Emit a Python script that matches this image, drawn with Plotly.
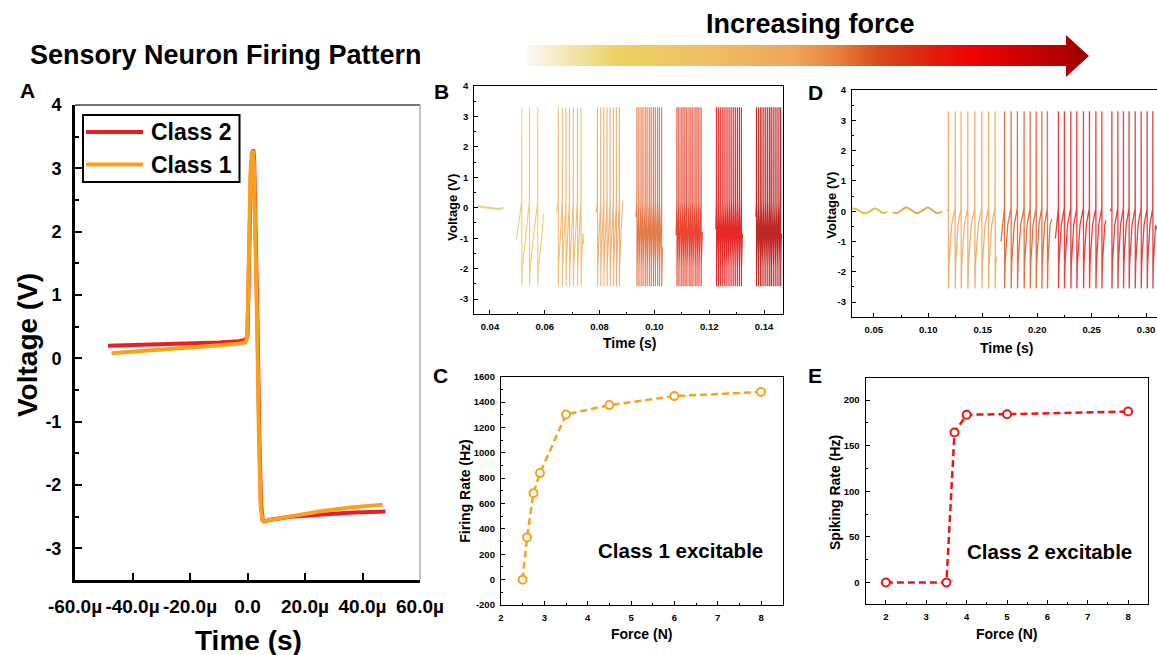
import plotly.graph_objects as go

W, H = 1157, 655
FONT = "Liberation Sans, Arial, Helvetica, sans-serif"

# ---------------- Panel A: single action potential of both classes ----------------
A_CLASS2_T_US = [-48.5, -40, -30, -20, -10, -3, -0.8, 0.0, 0.35, 0.75, 1.2, 1.7, 2.0, 2.3,
                 2.9, 3.5, 4.1, 4.7, 5.3, 5.9, 8, 15, 25, 35, 48.0]
A_CLASS2_V = [0.20, 0.21, 0.22, 0.23, 0.25, 0.27, 0.29, 0.35, 0.9, 2.0, 2.9, 3.28, 3.3, 3.15,
              2.1, 0.5, -1.2, -2.3, -2.55, -2.57, -2.55, -2.5, -2.47, -2.44, -2.42]
A_CLASS1_T_US = [-47.3, -40, -30, -20, -10, -3, -0.8, -0.2, 0.2, 0.6, 1.0, 1.5, 1.85, 2.2,
                 2.8, 3.4, 4.0, 4.6, 5.2, 5.7, 8, 15, 25, 35, 47.0]
A_CLASS1_V = [0.08, 0.11, 0.14, 0.17, 0.20, 0.23, 0.25, 0.30, 0.9, 2.0, 2.9, 3.25, 3.28, 3.1,
              2.0, 0.4, -1.3, -2.35, -2.56, -2.58, -2.55, -2.49, -2.42, -2.36, -2.31]
A_XTICK_US = [-60, -40, -20, 0, 20, 40, 60]
A_XTICK_TEXT = ["-60.0µ", "-40.0µ", "-20.0µ", "0.0", "20.0µ", "40.0µ", "60.0µ"]
VOLT_TICKS = [-3, -2, -1, 0, 1, 2, 3, 4]

# ---------------- Panel B: Class 1 spike trains at increasing force ----------------
B_REST_T = [0.0354, 0.0380, 0.0410, 0.0430, 0.0449]
B_REST_V = [0.05, 0.02, -0.02, -0.04, -0.01]
B_REST_COLOR = "#ead07c"

B_SPIKES = [
    [0.0516, 0.0544, 0.0574],
    [0.0649, 0.0664, 0.0677, 0.0690, 0.0704, 0.0719, 0.0732],
    [0.0792, 0.0804, 0.0815, 0.0827, 0.0838, 0.0850, 0.0861, 0.0872],
    [0.0936, 0.0943, 0.0951, 0.0958, 0.0966, 0.0973, 0.0981, 0.0988, 0.0996, 0.1003,
     0.1011, 0.1018, 0.1026],
    [0.1082, 0.1089, 0.1097, 0.1104, 0.1111, 0.1118, 0.1126, 0.1133, 0.1140, 0.1148,
     0.1155, 0.1162, 0.1170],
    [0.1226, 0.1233, 0.1240, 0.1247, 0.1254, 0.1261, 0.1268, 0.1275, 0.1282, 0.1289,
     0.1296, 0.1303, 0.1310, 0.1317],
    [0.1372, 0.1379, 0.1386, 0.1392, 0.1399, 0.1406, 0.1413, 0.1420, 0.1426, 0.1433,
     0.1440, 0.1447, 0.1454, 0.1460],
]
B_START_T = [0.0497, 0.0643, 0.0788, 0.0933, 0.1079, 0.1224, 0.1370]
B_START_V = [-1.05, -0.15, -0.15, -0.3, -0.9, -0.7, -0.3]
B_END_T = [0.0595, 0.0741, 0.0884, 0.1029, 0.1176, 0.1321, 0.1465]
B_END_V = [-0.2, -1.2, 0.2, -1.3, -0.8, -0.9, -1.0]
B_COLORS = ["#f1c45a", "#f0b35c", "#f0a35a", "#e0622a", "#e3260c", "#e10404", "#b60202"]
B_PEAK, B_TROUGH, B_THRESH = 3.3, -2.58, 0.2
B_REC_FRAC = [0.10, 0.55]
B_REC_V = [-1.95, -0.85]

# ---------------- Panel D: Class 2 spike trains at increasing force ----------------
D_OSC = [
    ([0.030, 0.034, 0.038, 0.042, 0.046, 0.0505, 0.054, 0.058, 0.0624],
     [0.10, 0.07, -0.02, -0.07, -0.02, 0.09, 0.05, -0.06, -0.02]),
    ([0.0674, 0.0710, 0.0750, 0.0796, 0.0845, 0.0894, 0.0945, 0.0995, 0.1040, 0.1083, 0.1124],
     [-0.03, -0.06, 0.02, 0.12, 0.04, -0.07, 0.02, 0.12, 0.03, -0.07, 0.0]),
]
D_OSC_COLORS = ["#e6bf45", "#e9a948"]

D_SPIKES = [
    [0.1184, 0.1246, 0.1301, 0.1362, 0.1427, 0.1491, 0.1552, 0.1613],
    [0.1699, 0.1760, 0.1818, 0.1879, 0.1935, 0.1990, 0.2042, 0.2093],
    [0.2194, 0.2249, 0.2308, 0.2363, 0.2424, 0.2479, 0.2538, 0.2593],
    [0.2685, 0.2740, 0.2791, 0.2843, 0.2899, 0.2954, 0.3009, 0.3061],
]
D_START_T = [0.1170, 0.1668, 0.2167, 0.2669]
D_START_V = [0.0, -1.0, -0.9, 0.0]
D_END_T = [0.1629, 0.2134, 0.2632, 0.3100]
D_END_V = [-1.5, -0.25, -0.3, -0.6]
D_COLORS = ["#f2a45c", "#df5a26", "#ef1e1e", "#d42828"]
D_PEAK, D_TROUGH, D_THRESH = 3.3, -2.55, 0.1
D_REC_FRAC = [0.10, 0.5]
D_REC_V = [-1.75, -0.45]

# ---------------- Panels C and E: rate versus force ----------------
C_FORCE = [2.5, 2.6, 2.75, 2.9, 3.5, 4.5, 6, 8]
C_RATE = [0, 333, 682, 840, 1302, 1376, 1447, 1479]
C_YTICKS = [-200, 0, 200, 400, 600, 800, 1000, 1200, 1400, 1600]
E_FORCE = [2, 3.5, 3.7, 4, 5, 8]
E_RATE = [0, 0, 164.5, 184, 184.6, 187.5]

ORANGE = "#f8a11c"
RED_A = "#ec1c24"
RED_E = "#ee1414"


def px_x(p):
    return p / W


def px_y(p):
    return 1 - p / H


def plain_labels(vals):
    # hyphen-minus labels, as printed on the original axes
    return [str(v) for v in vals]


def spike_train(t0, v0, spikes, t1, v1, peak, trough, thresh, rise, rec_frac, rec_v):
    """Concatenate threshold -> peak -> trough -> recovery for every spike time."""
    ts, vs = [t0], [v0]
    for i, s in enumerate(spikes):
        ts += [s, s + rise, s + 2 * rise]
        vs += [thresh, peak, trough]
        if i + 1 < len(spikes):
            isi = spikes[i + 1] - s
        else:
            isi = s - spikes[i - 1] if i > 0 else 0.002
        for f, v in zip(rec_frac, rec_v):
            t = s + f * isi
            if i + 1 < len(spikes) or t < t1:
                ts.append(t)
                vs.append(v)
    ts.append(t1)
    vs.append(v1)
    return ts, vs


fig = go.Figure()

# Panel A traces
fig.add_trace(go.Scatter(x=[t * 1e-6 for t in A_CLASS2_T_US], y=A_CLASS2_V, mode="lines",
                         line=dict(color=RED_A, width=4), name="Class 2",
                         xaxis="x", yaxis="y"))
fig.add_trace(go.Scatter(x=[t * 1e-6 for t in A_CLASS1_T_US], y=A_CLASS1_V, mode="lines",
                         line=dict(color=ORANGE, width=4), name="Class 1",
                         xaxis="x", yaxis="y"))

# Panel B traces
fig.add_trace(go.Scatter(x=B_REST_T, y=B_REST_V, mode="lines",
                         line=dict(color=B_REST_COLOR, width=2), xaxis="x2", yaxis="y2"))
for k, spikes in enumerate(B_SPIKES):
    tt, vv = spike_train(B_START_T[k], B_START_V[k], spikes, B_END_T[k], B_END_V[k],
                         B_PEAK, B_TROUGH, B_THRESH, 0.00003, B_REC_FRAC, B_REC_V)
    fig.add_trace(go.Scatter(x=tt, y=vv, mode="lines", opacity=0.85,
                             line=dict(color=B_COLORS[k], width=1.1),
                             xaxis="x2", yaxis="y2"))

# Panel D traces
for (tt, vv), col in zip(D_OSC, D_OSC_COLORS):
    fig.add_trace(go.Scatter(x=tt, y=vv, mode="lines", line=dict(color=col, width=2, shape="spline"),
                             xaxis="x3", yaxis="y3"))
for k, spikes in enumerate(D_SPIKES):
    tt, vv = spike_train(D_START_T[k], D_START_V[k], spikes, D_END_T[k], D_END_V[k],
                         D_PEAK, D_TROUGH, D_THRESH, 0.00008, D_REC_FRAC, D_REC_V)
    fig.add_trace(go.Scatter(x=tt, y=vv, mode="lines", opacity=0.85,
                             line=dict(color=D_COLORS[k], width=1.3),
                             xaxis="x3", yaxis="y3"))

# Panel C
fig.add_trace(go.Scatter(x=C_FORCE, y=C_RATE, mode="lines+markers",
                         line=dict(color=ORANGE, width=2.5, dash="7px,4px"),
                         marker=dict(symbol="circle", size=8, color="white",
                                     line=dict(color=ORANGE, width=2)),
                         xaxis="x4", yaxis="y4"))
# Panel E
fig.add_trace(go.Scatter(x=E_FORCE, y=E_RATE, mode="lines+markers",
                         line=dict(color=RED_E, width=2.5, dash="7px,4px"),
                         marker=dict(symbol="circle", size=8, color="white",
                                     line=dict(color=RED_E, width=2)),
                         xaxis="x5", yaxis="y5"))

# "Increasing force" arrow drawn on a pixel-scaled overlay axis
ARROW_X = [527, 1066, 1066, 1089, 1066, 1066, 527, 527]
ARROW_Y = [45, 45, 35, 56, 77, 66, 66, 45]
ARROW_SCALE = [[0, "#fbf9f6"], [0.06, "#f5e9bf"], [0.16, "#edd163"], [0.30, "#efc264"],
               [0.48, "#f0a45a"], [0.55, "#e6823e"], [0.63, "#d6491a"], [0.73, "#e01b0c"],
               [0.79, "#ef0303"], [0.87, "#d10000"], [0.96, "#b00000"], [1, "#9a0000"]]
fig.add_trace(go.Scatter(x=ARROW_X, y=ARROW_Y, mode="lines", fill="toself",
                         line=dict(width=0, color="rgba(0,0,0,0)"),
                         fillgradient=dict(type="horizontal", colorscale=ARROW_SCALE),
                         hoverinfo="skip", xaxis="x6", yaxis="y6"))


def small_axis(**kw):
    base = dict(showline=True, linecolor="black", linewidth=1.3, mirror=True,
                ticks="inside", ticklen=4, tickwidth=1.2, tickcolor="black",
                showgrid=False, zeroline=False, ticklabelstandoff=3, automargin=False,
                tickfont=dict(family=FONT, size=9.5, color="black", weight="bold"))
    base.update(kw)
    return base


def minor_small(d):
    return dict(dtick=d, ticks="inside", ticklen=2, tickwidth=1, tickcolor="black")


layout = dict(
    width=W, height=H, margin=dict(l=0, r=0, t=0, b=0, autoexpand=False),
    paper_bgcolor="white", plot_bgcolor="rgba(0,0,0,0)", showlegend=False,
    font=dict(family=FONT, color="black"),
    # Panel A
    xaxis=dict(domain=[px_x(75), px_x(420)], range=[-60e-6, 60e-6],
               tickvals=[t * 1e-6 for t in A_XTICK_US], ticktext=A_XTICK_TEXT,
               showline=True, linecolor="black", linewidth=3, mirror=False,
               ticks="inside", ticklen=7, tickwidth=2, tickcolor="black",
               showgrid=False, zeroline=False, ticklabelstandoff=7, automargin=False,
               tickfont=dict(family=FONT, size=19, color="black", weight="bold")),
    yaxis=dict(domain=[px_y(580), px_y(105)], range=[-3.5, 4],
               tickvals=VOLT_TICKS, ticktext=plain_labels(VOLT_TICKS),
               showline=True, linecolor="black", linewidth=3, mirror=False,
               ticks="inside", ticklen=7, tickwidth=2, tickcolor="black",
               minor=dict(dtick=0.5, ticks="inside", ticklen=4, tickwidth=2, tickcolor="black"),
               showgrid=False, zeroline=False, ticklabelstandoff=7, automargin=False,
               tickfont=dict(family=FONT, size=18, color="black", weight="bold")),
    # Panel B
    xaxis2=small_axis(domain=[px_x(474.3), px_x(782.7)], range=[0.0343, 0.1468],
                      tick0=0.04, dtick=0.02, tickformat=".2f", minor=minor_small(0.01),
                      anchor="y2"),
    yaxis2=small_axis(domain=[px_y(314.3), px_y(86)], range=[-3.5, 4],
                      tickvals=VOLT_TICKS, ticktext=plain_labels(VOLT_TICKS),
                      minor=minor_small(0.5), anchor="x2"),
    # Panel D
    xaxis3=small_axis(domain=[px_x(852), 1.0], range=[0.03, 0.31], tick0=0.05, dtick=0.05,
                      tickformat=".2f", minor=minor_small(0.025), anchor="y3"),
    yaxis3=small_axis(domain=[px_y(317.3), px_y(90)], range=[-3.5, 4],
                      tickvals=VOLT_TICKS, ticktext=plain_labels(VOLT_TICKS),
                      minor=minor_small(0.5), mirror=False, anchor="x3"),
    # Panel C
    xaxis4=small_axis(domain=[px_x(501), px_x(782.7)], range=[2, 8.5], dtick=1,
                      minor=minor_small(0.5), anchor="y4"),
    yaxis4=small_axis(domain=[px_y(605), px_y(376.7)], range=[-200, 1600],
                      tickvals=C_YTICKS, ticktext=plain_labels(C_YTICKS),
                      minor=minor_small(100), anchor="x4"),
    # Panel E
    xaxis5=small_axis(domain=[px_x(865.7), px_x(1148.3)], range=[1.5, 8.5], dtick=1,
                      minor=minor_small(0.5), anchor="y5"),
    yaxis5=small_axis(domain=[px_y(604.3), px_y(378.3)], range=[-24, 224], dtick=50,
                      minor=minor_small(25), anchor="x5"),
    # pixel overlay for the arrow
    xaxis6=dict(domain=[0, 1], range=[0, W], visible=False, fixedrange=True, anchor="y6",
                automargin=False),
    yaxis6=dict(domain=[0, 1], range=[H, 0], visible=False, fixedrange=True, anchor="x6",
                automargin=False),
)
fig.update_layout(**layout)

# Panel A: thin top/right frame and the legend box
shapes = [
    dict(type="line", xref="paper", yref="paper", x0=px_x(75), x1=px_x(420),
         y0=px_y(105), y1=px_y(105), line=dict(color="#444444", width=1.5)),
    dict(type="line", xref="paper", yref="paper", x0=px_x(420), x1=px_x(420),
         y0=px_y(105), y1=px_y(580), line=dict(color="#999999", width=1.2)),
    dict(type="rect", xref="paper", yref="paper", x0=px_x(83), x1=px_x(239.5),
         y0=px_y(182), y1=px_y(115), line=dict(color="black", width=2), fillcolor="white"),
    dict(type="line", xref="paper", yref="paper", x0=px_x(86), x1=px_x(143),
         y0=px_y(132), y1=px_y(132), line=dict(color=RED_A, width=4)),
    dict(type="line", xref="paper", yref="paper", x0=px_x(86), x1=px_x(143),
         y0=px_y(164.5), y1=px_y(164.5), line=dict(color=ORANGE, width=4)),
]
fig.update_layout(shapes=shapes)


def label(text, x, y, size, angle=0, xanchor="center"):
    return dict(text=text, x=px_x(x), y=px_y(y), xref="paper", yref="paper",
                showarrow=False, textangle=angle, xanchor=xanchor, yanchor="middle",
                font=dict(family=FONT, size=size, color="black", weight="bold"))


annotations = [
    label("Sensory Neuron Firing Pattern", 226, 55, 27),
    label("Increasing force", 810, 24, 27),
    label("A", 27.5, 91, 21), label("B", 441.7, 91.7, 21), label("C", 440, 375.8, 21),
    label("D", 815, 92.7, 21), label("E", 815, 375.8, 21),
    label("Class 2", 149, 132, 23, xanchor="left"),
    label("Class 1", 149, 164.5, 23, xanchor="left"),
    label("Voltage (V)", 27, 345, 28, angle=-90),
    label("Time (s)", 248, 640, 28),
    label("Voltage (V)", 453, 207.7, 13, angle=-90),
    label("Time (s)", 629, 343, 14),
    label("Voltage (V)", 831.7, 205, 13, angle=-90),
    label("Time (s)", 1006.7, 347.7, 14),
    label("Firing Rate (Hz)", 465, 491.7, 14, angle=-90),
    label("Force (N)", 641, 634, 14),
    label("Class 1 excitable", 680.3, 550.7, 20.5),
    label("Spiking Rate (Hz)", 835, 493, 14, angle=-90),
    label("Force (N)", 1006.7, 634, 14),
    label("Class 2 excitable", 1049, 551.7, 20.5),
]
fig.update_layout(annotations=annotations)

fig.write_html("out.html")
